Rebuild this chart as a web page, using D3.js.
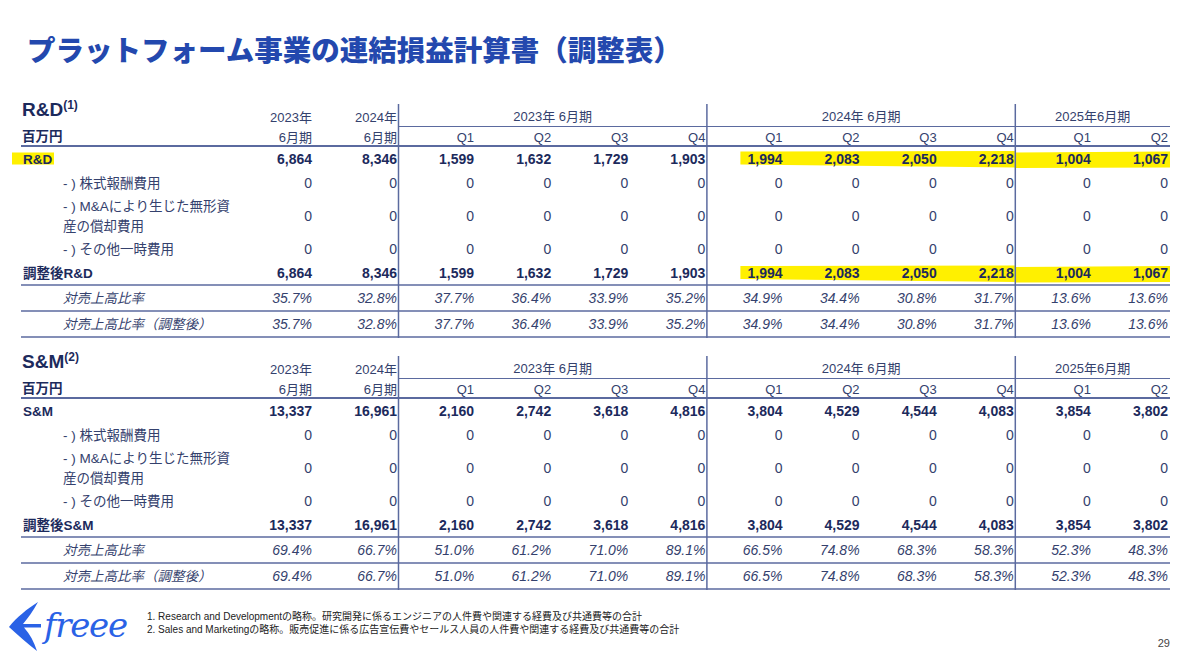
<!DOCTYPE html>
<html>
<head>
<meta charset="utf-8">
<script src="https://cdn.jsdelivr.net/npm/d3@7"></script>
<style>
  body { margin: 0; background: #fff; }
  svg { display: block; }
  text { font-family: "Liberation Sans", Arial, "Noto Sans CJK JP", sans-serif; }
</style>
</head>
<body>
<div id="chart"></div>
<script>
// ---- data ----
const fiscalGroups = ["2023年 6月期", "2024年 6月期", "2025年6月期"];
const groupSpans = [4, 4, 2];
const annualTop = ["2023年", "2024年"];
const annualBottom = ["6月期", "6月期"];
const quarters = ["Q1", "Q2", "Q3", "Q4", "Q1", "Q2", "Q3", "Q4", "Q1", "Q2"];

// columns: FY2023, FY2024, then 10 quarters
const rdTotal    = [6864, 8346, 1599, 1632, 1729, 1903, 1994, 2083, 2050, 2218, 1004, 1067];
const rdStock    = [0, 0, 0, 0, 0, 0, 0, 0, 0, 0, 0, 0];
const rdAmort    = [0, 0, 0, 0, 0, 0, 0, 0, 0, 0, 0, 0];
const rdOther    = [0, 0, 0, 0, 0, 0, 0, 0, 0, 0, 0, 0];
const rdAdjusted = [6864, 8346, 1599, 1632, 1729, 1903, 1994, 2083, 2050, 2218, 1004, 1067];
const rdRatio    = [35.7, 32.8, 37.7, 36.4, 33.9, 35.2, 34.9, 34.4, 30.8, 31.7, 13.6, 13.6];
const rdRatioAdj = [35.7, 32.8, 37.7, 36.4, 33.9, 35.2, 34.9, 34.4, 30.8, 31.7, 13.6, 13.6];

const smTotal    = [13337, 16961, 2160, 2742, 3618, 4816, 3804, 4529, 4544, 4083, 3854, 3802];
const smStock    = [0, 0, 0, 0, 0, 0, 0, 0, 0, 0, 0, 0];
const smAmort    = [0, 0, 0, 0, 0, 0, 0, 0, 0, 0, 0, 0];
const smOther    = [0, 0, 0, 0, 0, 0, 0, 0, 0, 0, 0, 0];
const smAdjusted = [13337, 16961, 2160, 2742, 3618, 4816, 3804, 4529, 4544, 4083, 3854, 3802];
const smRatio    = [69.4, 66.7, 51.0, 61.2, 71.0, 89.1, 66.5, 74.8, 68.3, 58.3, 52.3, 48.3];
const smRatioAdj = [69.4, 66.7, 51.0, 61.2, 71.0, 89.1, 66.5, 74.8, 68.3, 58.3, 52.3, 48.3];

const adjLabels = ["- ) 株式報酬費用", ["- ) M&Aにより生じた無形資", "産の償却費用"], "- ) その他一時費用"];
const ratioLabels = ["対売上高比率", "対売上高比率（調整後）"];

// yellow marker: first/last highlighted column
const highlightCols = [6, 11];

const footnotes = [
  "1. Research and Developmentの略称。研究開発に係るエンジニアの人件費や関連する経費及び共通費等の合計",
  "2. Sales and Marketingの略称。販売促進に係る広告宣伝費やセールス人員の人件費や関連する経費及び共通費等の合計"
];

// ---- layout ----
const width = 1200;
const height = 660;
const navy = "#1c2a5c";
const soft = "#34416d";
const rule = "#5b6a9f";
const ruleLeft = 21, ruleRight = 1170;

const svg = d3.select("#chart")
    .append("svg")
    .attr("width", width)
    .attr("height", height);

// right edge of each column (index 0..11), annual columns are wider
const x = d3.scaleLinear().domain([0, 1, 11]).range([312, 397, 1168]);
const fmtInt = d3.format(",");
const fmtPct = function(v) { return d3.format(".1f")(v) + "%"; };

svg.append("text")
    .attr("x", 27)
    .attr("y", 61)
    .attr("fill", "#2348ae")
    .style("font-family", "'Noto Sans CJK JP', sans-serif")
    .style("font-weight", 900)
    .style("font-size", "28.5px")
    .text("プラットフォーム事業の連結損益計算書（調整表）");

function drawSection(offset, spec) {
    const g = svg.append("g").attr("transform", "translate(0," + offset + ")");

    // row geometry
    const rowHeights = [25, 24, 42, 24, 24, 26, 26];
    const rows = [
        { label: spec.name, values: spec.total, kind: "bold", mark: true },
        { label: adjLabels[0], values: spec.stock, kind: "plain" },
        { label: adjLabels[1], values: spec.amort, kind: "plain" },
        { label: adjLabels[2], values: spec.other, kind: "plain" },
        { label: "調整後" + spec.name, values: spec.adjusted, kind: "bold", mark: true },
        { label: ratioLabels[0], values: spec.ratio, kind: "ratio" },
        { label: ratioLabels[1], values: spec.ratioAdj, kind: "ratio" }
    ];
    let top = 146;
    rows.forEach(function(r, i) {
        r.y0 = top;
        r.cy = top + rowHeights[i] / 2;
        top += rowHeights[i];
        r.y1 = top;
    });
    const bottom = top;

    // yellow marker strokes behind the text
    if (spec.highlight) {
        const mark = g.append("g").attr("fill", "#fff000");
        rows.filter(function(r) { return r.mark; }).forEach(function(r, k) {
            const cy = r.cy;
            const xa = x(highlightCols[0] - 1) + 35, xb = x(9) + 1, xc = x(highlightCols[1]) + 2;
            mark.append("path")
                .attr("d", "M" + xa + "," + (cy - 7) + "L" + xb + "," + (cy - 7.5) +
                           "L" + xb + "," + (cy + 9) + "L" + xa + "," + (cy + 6) + "Z");
            mark.append("path")
                .attr("d", "M" + xb + "," + (cy - 6) + "L" + xc + "," + (cy - 7) +
                           "L" + xc + "," + (cy + 9) + "L" + xb + "," + (cy + 9.5) + "Z");
            if (k === 0) {
                mark.append("rect")
                    .attr("x", 12).attr("y", cy - 6).attr("width", 42).attr("height", 12);
            }
        });
    }

    // section title + unit
    const title = g.append("text")
        .attr("x", 22).attr("y", 116)
        .attr("fill", navy)
        .style("font-weight", "bold")
        .style("font-size", "19px")
        .text(spec.name);
    title.append("tspan")
        .attr("dy", -7)
        .style("font-size", "12px")
        .text(spec.note);

    g.append("text")
        .attr("x", 22).attr("y", 141)
        .attr("fill", navy)
        .style("font-weight", "bold")
        .style("font-size", "13.5px")
        .style("font-family", "'Noto Sans CJK JP', sans-serif")
        .text("百万円");

    // annual header
    g.selectAll("text.ytop")
        .data(annualTop)
        .join("text")
        .attr("class", "ytop")
        .attr("x", function(d, i) { return x(i); })
        .attr("y", 122)
        .attr("text-anchor", "end")
        .attr("fill", soft)
        .style("font-size", "13px")
        .text(function(d) { return d; });

    g.selectAll("text.ybot")
        .data(annualBottom)
        .join("text")
        .attr("class", "ybot")
        .attr("x", function(d, i) { return x(i); })
        .attr("y", 142)
        .attr("text-anchor", "end")
        .attr("fill", soft)
        .style("font-size", "13px")
        .text(function(d) { return d; });

    // fiscal-year group header
    let start = 2;
    const groups = fiscalGroups.map(function(name, i) {
        const gr = { name: name, first: start, last: start + groupSpans[i] - 1 };
        start += groupSpans[i];
        return gr;
    });
    g.selectAll("text.grp")
        .data(groups)
        .join("text")
        .attr("class", "grp")
        .attr("x", function(d) {
            const left = x(d.first - 1) + 1.5;
            const right = d.last === 11 ? ruleRight : x(d.last) + 1.5;
            return (left + right) / 2;
        })
        .attr("y", 121)
        .attr("text-anchor", "middle")
        .attr("fill", soft)
        .style("font-size", "13px")
        .text(function(d) { return d.name; });

    g.selectAll("text.qtr")
        .data(quarters)
        .join("text")
        .attr("class", "qtr")
        .attr("x", function(d, i) { return x(i + 2); })
        .attr("y", 142)
        .attr("text-anchor", "end")
        .attr("fill", soft)
        .style("font-size", "13px")
        .text(function(d) { return d; });

    // rules
    g.append("line")
        .attr("x1", x(1) + 1.5).attr("x2", ruleRight)
        .attr("y1", 126.5).attr("y2", 126.5)
        .attr("stroke", rule).attr("stroke-width", 1);
    g.append("line")
        .attr("x1", ruleLeft).attr("x2", ruleRight)
        .attr("y1", 146).attr("y2", 146)
        .attr("stroke", rule).attr("stroke-width", 2);
    g.selectAll("line.row")
        .data(rows.slice(4))
        .join("line")
        .attr("class", "row")
        .attr("x1", ruleLeft).attr("x2", ruleRight)
        .attr("y1", function(d) { return d.y1; })
        .attr("y2", function(d) { return d.y1; })
        .attr("stroke", rule).attr("stroke-width", 1.5);
    g.selectAll("line.sep")
        .data(groups)
        .join("line")
        .attr("class", "sep")
        .attr("x1", function(d) { return x(d.first - 1) + 1.5; })
        .attr("x2", function(d) { return x(d.first - 1) + 1.5; })
        .attr("y1", 104).attr("y2", bottom + 1)
        .attr("stroke", rule).attr("stroke-width", 1.5);

    // row labels
    const labels = g.selectAll("text.lab")
        .data(rows)
        .join("text")
        .attr("class", "lab")
        .attr("x", function(d) { return d.kind === "bold" ? 23 : 63; })
        .attr("y", function(d) { return Array.isArray(d.label) ? d.cy - 5 : d.cy + 5; })
        .attr("fill", function(d) { return d.kind === "bold" ? navy : soft; })
        .style("font-size", "13.5px")
        .style("font-weight", function(d) { return d.kind === "bold" ? "bold" : "normal"; })
        .style("font-style", function(d) { return d.kind === "ratio" ? "italic" : "normal"; });
    labels.each(function(d) {
        const t = d3.select(this);
        if (Array.isArray(d.label)) {
            d.label.forEach(function(line, i) {
                t.append("tspan").attr("x", 63).attr("dy", i === 0 ? 0 : 20).text(line);
            });
        } else {
            t.text(d.label);
        }
    });

    // values
    rows.forEach(function(r) {
        g.append("g")
            .selectAll("text")
            .data(r.values)
            .join("text")
            .attr("x", function(d, i) { return x(i); })
            .attr("y", r.cy + 5)
            .attr("text-anchor", "end")
            .attr("fill", r.kind === "bold" ? navy : soft)
            .style("font-size", "14px")
            .style("font-weight", r.kind === "bold" ? "bold" : "normal")
            .style("font-style", r.kind === "ratio" ? "italic" : "normal")
            .text(function(d) { return r.kind === "ratio" ? fmtPct(d) : fmtInt(d); });
    });
}

drawSection(0, {
    name: "R&D", note: "(1)", highlight: true,
    total: rdTotal, stock: rdStock, amort: rdAmort, other: rdOther,
    adjusted: rdAdjusted, ratio: rdRatio, ratioAdj: rdRatioAdj
});
drawSection(252, {
    name: "S&M", note: "(2)", highlight: false,
    total: smTotal, stock: smStock, amort: smAmort, other: smOther,
    adjusted: smAdjusted, ratio: smRatio, ratioAdj: smRatioAdj
});

// ---- footer: logo, notes, page number ----
const logo = svg.append("g").attr("fill", "#2a62e6");
logo.append("path")
    .attr("d", "M9,627 C17,617 27,609 38,602 C33,611 28,618 23,624 L41,624 L41,627.5 L24,627.5 " +
               "C30,634 34,642 37,651 C28,644 18,635 9,627 Z");
logo.append("text")
    .attr("x", 44).attr("y", 637)
    .style("font-family", "'DejaVu Serif', serif")
    .style("font-style", "italic")
    .style("font-size", "34px")
    .attr("textLength", 84)
    .text("freee");

svg.selectAll("text.note")
    .data(footnotes)
    .join("text")
    .attr("class", "note")
    .attr("x", 147)
    .attr("y", function(d, i) { return 619.5 + i * 13; })
    .attr("fill", "#222")
    .style("font-size", "10px")
    .text(function(d) { return d; });

svg.append("text")
    .attr("x", 1170).attr("y", 647)
    .attr("text-anchor", "end")
    .attr("fill", "#444")
    .style("font-size", "11px")
    .text("29");
</script>
</body>
</html>
